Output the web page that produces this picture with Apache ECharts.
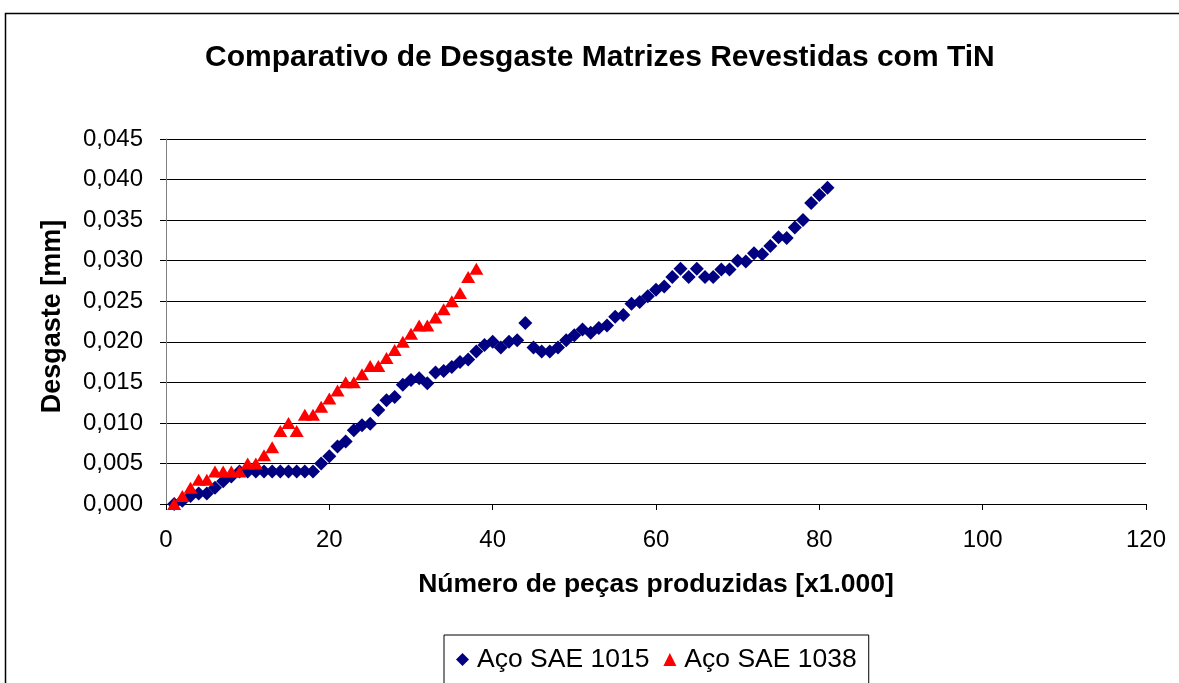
<!DOCTYPE html>
<html>
<head>
<meta charset="utf-8">
<title>Comparativo de Desgaste Matrizes Revestidas com TiN</title>
<script src="https://cdn.jsdelivr.net/npm/echarts@6/dist/echarts.min.js"></script>
<style>
  html, body { margin: 0; padding: 0; background: #ffffff; }
  #chart { width: 1179px; height: 683px; }
</style>
</head>
<body>
<div id="chart"></div>
<script>
// Pieces produced (thousands) for each measurement
const pecas1015 = [1,2,3,4,5,6,7,8,9,10,11,12,13,14,15,16,17,18,19,20,21,22,23,24,25,26,27,28,29,30,
  31,32,33,34,35,36,37,38,39,40,41,42,43,44,45,46,47,48,49,50,51,52,53,54,55,56,57,58,59,60,
  61,62,63,64,65,66,67,68,69,70,71,72,73,74,75,76,77,78,79,80,81];
// Wear [mm] for SAE 1015 steel
const desgaste1015 = [0.0000,0.0004,0.0010,0.0013,0.0013,0.0020,0.0028,0.0034,0.0040,0.0040,
  0.0040,0.0040,0.0040,0.0040,0.0040,0.0040,0.0040,0.0040,0.0050,0.0059,
  0.0071,0.0077,0.0091,0.0097,0.0099,0.0116,0.0128,0.0132,0.0147,0.0153,
  0.0155,0.0149,0.0162,0.0164,0.0169,0.0175,0.0178,0.0188,0.0196,0.0200,
  0.0193,0.0200,0.0202,0.0223,0.0193,0.0188,0.0188,0.0193,0.0202,0.0208,
  0.0215,0.0211,0.0217,0.0220,0.0231,0.0233,0.0247,0.0249,0.0256,0.0264,
  0.0268,0.0280,0.0290,0.0280,0.0290,0.0280,0.0280,0.0289,0.0289,0.0300,
  0.0299,0.0309,0.0308,0.0318,0.0329,0.0328,0.0341,0.0350,0.0371,0.0381,0.0390];

const pecas1038 = [1,2,3,4,5,6,7,8,9,10,11,12,13,14,15,16,17,18,19,20,21,22,23,24,25,26,27,28,29,30,
  31,32,33,34,35,36,37,38];
// Wear [mm] for SAE 1038 steel
const desgaste1038 = [0.000,0.001,0.002,0.003,0.003,0.004,0.004,0.004,0.004,0.005,
  0.005,0.006,0.007,0.009,0.010,0.009,0.011,0.011,0.012,0.013,
  0.014,0.015,0.015,0.016,0.017,0.017,0.018,0.019,0.020,0.021,
  0.022,0.022,0.023,0.024,0.025,0.026,0.028,0.029];

const seriesNames = ['Aço SAE 1015', 'Aço SAE 1038'];
const xTicks = { min: 0, max: 120, step: 20 };
const yTicks = { min: 0, max: 0.045, step: 0.005 };

const FONT = '"Liberation Sans", Arial, sans-serif';

function pairs(xs, ys) {
  return xs.map((x, i) => [x, ys[i]]);
}

const chart = echarts.init(document.getElementById('chart'), null, { renderer: 'canvas' });

chart.setOption({
  backgroundColor: '#ffffff',
  animation: false,
  textStyle: { fontFamily: FONT },
  title: {
    text: 'Comparativo de Desgaste Matrizes Revestidas com TiN',
    left: 205,
    top: 43,
    padding: 0,
    textStyle: { fontFamily: FONT, fontSize: 30, fontWeight: 'bold', color: '#000' }
  },
  graphic: [{
    type: 'rect',
    shape: { x: 5.5, y: 13.5, width: 1200, height: 700 },
    style: { fill: 'none', stroke: '#000', lineWidth: 1.5 },
    silent: true,
    z: 100
  }],
  legend: {
    data: [
      { name: seriesNames[0], icon: 'diamond' },
      { name: seriesNames[1], icon: 'triangle' }
    ],
    left: 444,
    top: 635,
    orient: 'horizontal',
    itemWidth: 13,
    itemHeight: 13,
    itemGap: 14,
    padding: [11, 12, 30, 12],
    borderColor: '#000',
    borderWidth: 1,
    textStyle: { fontFamily: FONT, fontSize: 26.5, color: '#000', padding: [0, 0, 0, 3] }
  },
  grid: { left: 166, right: 33, top: 139, bottom: 179, containLabel: false },
  xAxis: {
    type: 'value',
    min: xTicks.min,
    max: xTicks.max,
    interval: xTicks.step,
    name: 'Número de peças produzidas [x1.000]',
    nameLocation: 'middle',
    nameGap: 67,
    nameTextStyle: { fontFamily: FONT, fontSize: 26.5, fontWeight: 'bold', color: '#000' },
    axisLine: { show: true, onZero: false, lineStyle: { color: '#000', width: 1 } },
    axisTick: { show: true, inside: false, length: 6, lineStyle: { color: '#000' } },
    axisLabel: { fontFamily: FONT, fontSize: 24, color: '#000', margin: 24 },
    splitLine: { show: false }
  },
  yAxis: {
    type: 'value',
    min: yTicks.min,
    max: yTicks.max,
    interval: yTicks.step,
    name: 'Desgaste [mm]',
    nameLocation: 'middle',
    nameGap: 100,
    nameTextStyle: { fontFamily: FONT, fontSize: 27, fontWeight: 'bold', color: '#000', padding: [0, 0, 0, 10] },
    axisLine: { show: true, lineStyle: { color: '#808080', width: 1 } },
    axisTick: { show: true, inside: false, length: 6, lineStyle: { color: '#000' } },
    axisLabel: {
      fontFamily: FONT, fontSize: 24, color: '#000', margin: 23,
      formatter: v => v.toFixed(3).replace('.', ',')
    },
    splitLine: { show: true, lineStyle: { color: '#000', width: 1 } }
  },
  series: [
    {
      name: seriesNames[0],
      type: 'scatter',
      symbol: 'diamond',
      symbolSize: 14,
      itemStyle: { color: '#000080', opacity: 1 },
      data: pairs(pecas1015, desgaste1015),
      z: 2
    },
    {
      name: seriesNames[1],
      type: 'scatter',
      symbol: 'triangle',
      symbolSize: [14, 12],
      itemStyle: { color: '#ff0000', opacity: 1 },
      data: pairs(pecas1038, desgaste1038),
      z: 3
    }
  ]
});
</script>
</body>
</html>
